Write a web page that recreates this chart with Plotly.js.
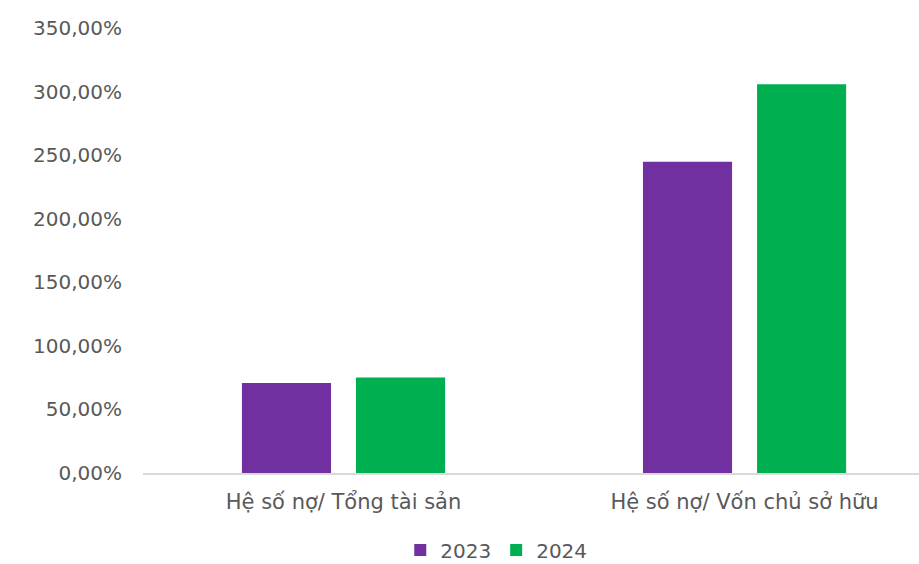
<!DOCTYPE html>
<html><head><meta charset="utf-8">
<script src="https://cdn.plot.ly/plotly-3.0.1.min.js"></script>
<style>html,body{margin:0;padding:0;background:#fff}#chart{width:919px;height:564px}</style>
</head><body><div id="chart"></div>
<script>
const categories = ["Hệ số nợ/ Tổng tài sản", "Hệ số nợ/ Vốn chủ sở hữu"];
const series2023 = [70.7, 244.8];
const series2024 = [75.2, 305.8];
const seriesNames = ["2023", "2024"];
const yTickValues = [0, 50, 100, 150, 200, 250, 300, 350];
const yTickLabels = ["0,00%", "50,00%", "100,00%", "150,00%", "200,00%", "250,00%", "300,00%", "350,00%"];

const fontFam = "'DejaVu Sans', sans-serif";
const traces = [
  {type: 'bar', name: seriesNames[0], x: categories, y: series2023, marker: {color: '#7030a0'}, hoverinfo: 'none'},
  {type: 'bar', name: seriesNames[1], x: categories, y: series2024, marker: {color: '#00b050'}, hoverinfo: 'none'}
];
const layout = {
  width: 919, height: 564,
  margin: {l: 143, r: 0, t: 27.5, b: 91.3},
  paper_bgcolor: '#fff', plot_bgcolor: '#fff',
  font: {family: fontFam, color: '#595959', size: 20},
  barmode: 'group', bargap: 0.431, bargroupgap: 0.219,
  xaxis: {
    type: 'category', range: [-0.5, 1.435], showgrid: false, zeroline: false,
    showline: true, linecolor: '#d9d9d9', linewidth: 2,
    ticks: '', tickfont: {size: 21, color: '#595959'}, ticklabelstandoff: 9
  },
  yaxis: {
    range: [0, 350], tickmode: 'array', tickvals: yTickValues, ticktext: yTickLabels,
    showgrid: false, zeroline: false, showline: false, ticks: '',
    tickfont: {size: 20, color: '#595959'}, ticklabelstandoff: 20
  },
  showlegend: true,
  legend: {orientation: 'h', xref: 'container', yref: 'container', x: 0.54, xanchor: 'center', y: 0.025, yanchor: 'middle',
    font: {size: 20, color: '#595959'}, itemwidth: 30, traceorder: 'normal', tracegroupgap: 0}
};
Plotly.newPlot('chart', traces, layout, {displayModeBar: false, staticPlot: true});
</script></body></html>
